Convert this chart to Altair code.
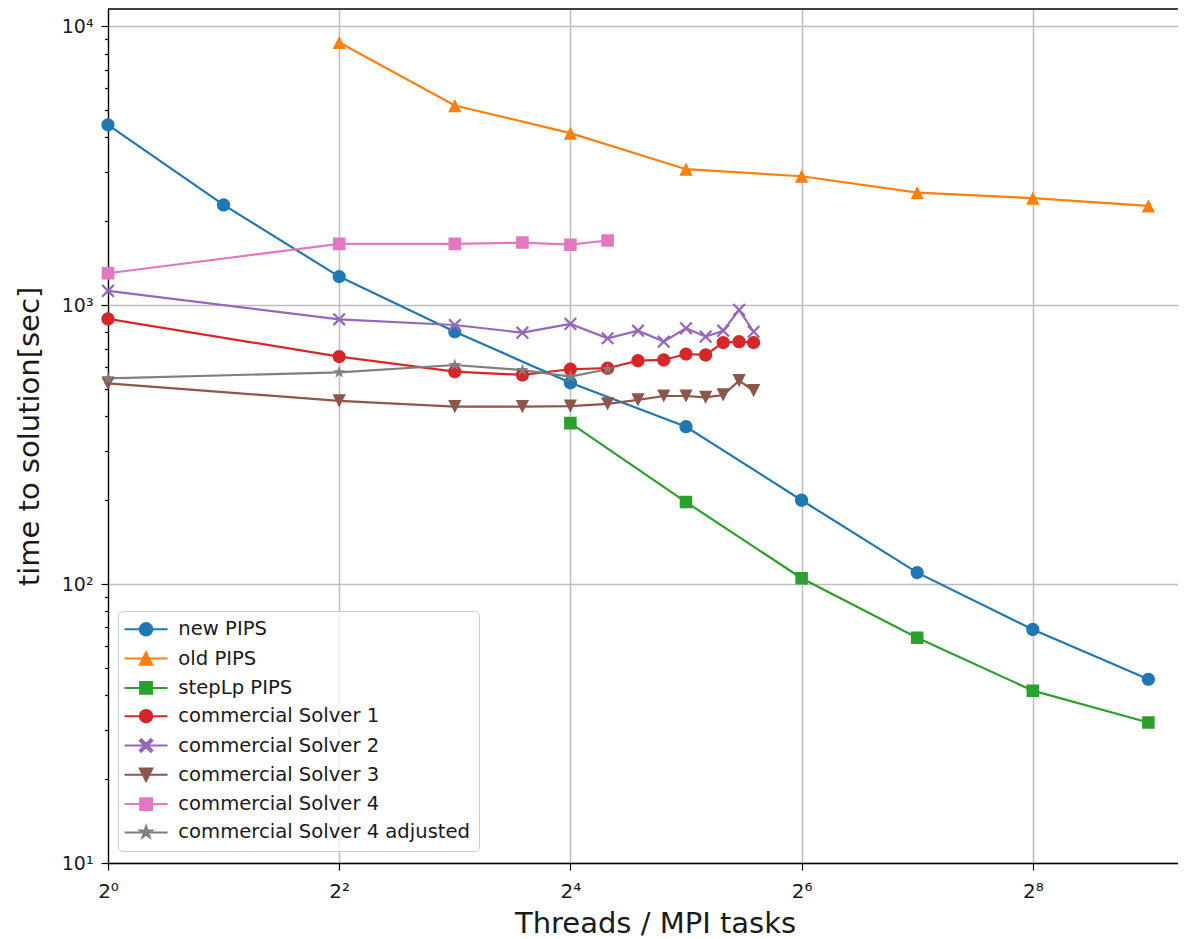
import math
import pandas as pd
import altair as alt

# ---------------- data ----------------
series_names = [
    "new PIPS", "old PIPS", "stepLp PIPS", "commercial Solver 1",
    "commercial Solver 2", "commercial Solver 3", "commercial Solver 4",
    "commercial Solver 4 adjusted",
]
series_colors = ["#1f77b4", "#ff7f0e", "#2ca02c", "#d62728",
                 "#9467bd", "#8c564b", "#e377c2", "#7f7f7f"]

pips_threads = [1, 2, 4, 8, 16, 32, 64, 128, 256, 512]
new_pips = [4440, 2291, 1268, 804, 528, 367, 200, 110, 68.8, 45.6]

old_threads = [4, 8, 16, 32, 64, 128, 256, 512]
old_pips = [8762, 5206, 4146, 3078, 2904, 2538, 2423, 2273]

steplp_threads = [16, 32, 64, 128, 256, 512]
steplp_pips = [378, 197, 105, 64.2, 41.5, 31.9]

solver_threads = [1, 4, 8, 12, 16, 20, 24, 28, 32, 36, 40, 44, 48]
solver1 = [894, 655, 578, 563, 590, 595, 633, 637, 669, 664, 735, 741, 735]
solver2 = [1127, 891, 850, 798, 858, 762, 811, 741, 827, 772, 811, 963, 804]
solver3 = [525, 454, 433, 433, 435, 443, 458, 473, 473, 468, 477, 537, 494]

solver4_threads = [1, 4, 8, 12, 16, 20]
solver4 = [1303, 1661, 1661, 1679, 1650, 1708]
solver4_adj = [547, 575, 611, 586, 555, 590]

x_tick_values = [1, 4, 16, 64, 256]
y_major = [10, 100, 1000, 10000]
y_minor = [m * d for d in (10, 100, 1000) for m in range(2, 10)]

# ---------------- table ----------------
groups = [
    (series_names[0], pips_threads, new_pips),
    (series_names[1], old_threads, old_pips),
    (series_names[2], steplp_threads, steplp_pips),
    (series_names[3], solver_threads, solver1),
    (series_names[4], solver_threads, solver2),
    (series_names[5], solver_threads, solver3),
    (series_names[6], solver4_threads, solver4),
    (series_names[7], solver4_threads, solver4_adj),
]
rows = []
for idx, (name, xs, ys) in enumerate(groups):
    for xv, yv in zip(xs, ys):
        rows.append({"series": name, "order_idx": idx, "threads": xv, "time": yv})
df = pd.DataFrame(rows)

# ---------------- marker shapes (unit box, plus a legend line segment) ----------------
LINE = "M-3.44,0L3.44,0 "


def fmt(v):
    return f"{v:.3f}".rstrip("0").rstrip(".")


def poly(points):
    return "M" + "L".join(f"{fmt(px)},{fmt(py)}" for px, py in points) + "Z"


circle = "M-1,0A1,1 0 1,0 1,0A1,1 0 1,0 -1,0Z"
tri_up = poly([(0, -1), (1, 1), (-1, 1)])
square = poly([(-0.95, -0.95), (0.95, -0.95), (0.95, 0.95), (-0.95, 0.95)])
c = 0.24
xmark = poly([(0, -c), (1 - c, -1), (1, -1 + c), (c, 0), (1, 1 - c), (1 - c, 1),
              (0, c), (-1 + c, 1), (-1, 1 - c), (-c, 0), (-1, -1 + c), (-1 + c, -1)])
tri_down = poly([(0, 1), (1, -1), (-1, -1)])
star_pts = []
for k in range(10):
    r = 1.0 if k % 2 == 0 else 0.382
    ang = -math.pi / 2 + k * math.pi / 5
    star_pts.append((r * math.cos(ang), r * math.sin(ang)))
star = poly(star_pts)

shape_paths = [LINE + s for s in (circle, tri_up, square, circle, xmark, tri_down, square, star)]

# ---------------- layout ----------------
W, H = 1070, 854
px_per_oct = 115.6
x_max = 2 ** (W / px_per_oct)
y_max = 10 ** (4 + 17.5 / 278.9)
FONT = "DejaVu Sans"
TXT = "#1a1a1a"

major_test = "indexof([10,100,1000,10000], datum.value) >= 0"

x_enc = alt.X(
    "threads:Q",
    scale=alt.Scale(type="log", base=2, domain=[1, x_max], nice=False, zero=False),
    axis=alt.Axis(
        values=x_tick_values,
        labelExpr="'2' + (datum.value == 1 ? '⁰' : datum.value == 4 ? '²' : datum.value == 16 ? '⁴' : datum.value == 64 ? '⁶' : '⁸')",
        title="Threads / MPI tasks",
        titleFont=FONT, titleFontSize=29, titleFontWeight="normal", titleColor=TXT,
        titlePadding=8, titleX=547,
        labelFont=FONT, labelFontSize=20, labelColor=TXT, labelPadding=11,
        labelFlush=False, labelOverlap=False,
        tickSize=7, tickColor="black", tickWidth=1.2,
        domainColor="black", domainWidth=1.3,
        grid=True, gridColor="#bdbdbd", gridWidth=1.5,
    ),
)
y_enc = alt.Y(
    "time:Q",
    scale=alt.Scale(type="log", domain=[10, y_max], nice=False, zero=False),
    axis=alt.Axis(
        values=y_major + y_minor,
        labelExpr="datum.value == 10 ? '10¹' : datum.value == 100 ? '10²' : datum.value == 1000 ? '10³' : datum.value == 10000 ? '10⁴' : ''",
        title="time to solution[sec]",
        titleFont=FONT, titleFontSize=29, titleFontWeight="normal", titleColor=TXT,
        titlePadding=17,
        labelFont=FONT, labelFontSize=19, labelColor=TXT, labelPadding=8,
        labelFlush=False, labelOverlap=False,
        tickSize={"condition": {"test": major_test, "value": 7}, "value": 3.5},
        tickColor="black", tickWidth=1.2,
        domainColor="black", domainWidth=1.3,
        grid=True, gridColor="#bdbdbd", gridWidth=1.5,
        gridOpacity={"condition": {"test": major_test, "value": 1}, "value": 0},
    ),
)

legend = alt.Legend(
    title=None, orient="none", legendX=10, legendY=602, direction="vertical",
    symbolSize=156.25, symbolStrokeWidth=2, symbolOffset=9.75, symbolOpacity=1,
    labelOffset=22.5, padding=8.5, rowPadding=7.3,
    labelFont=FONT, labelFontSize=19.6, labelColor=TXT, labelLimit=500,
    fillColor="rgba(255,255,255,0.8)", strokeColor="#cccccc", cornerRadius=4,
)

base = alt.Chart(df)

# line colours: same pairs, listed in reverse so this scale is not merged with the legend scales
lines = base.mark_line(strokeWidth=2.2).encode(
    x=x_enc, y=y_enc,
    color=alt.Color("series:N",
                    scale=alt.Scale(domain=series_names[::-1], range=series_colors[::-1]),
                    legend=None),
)

points = base.mark_point(filled=True, opacity=1, size=175).encode(
    x=x_enc, y=y_enc,
    fill=alt.Fill("series:N", scale=alt.Scale(domain=series_names, range=series_colors), legend=legend),
    stroke=alt.Stroke("series:N", scale=alt.Scale(domain=series_names, range=series_colors), legend=legend),
    shape=alt.Shape("series:N", scale=alt.Scale(domain=series_names, range=shape_paths), legend=legend),
    strokeWidth=alt.value(0),
    order=alt.Order("order_idx:Q"),
)

top_border = alt.Chart(alt.Data(values=[{}])).mark_rule(color="black", strokeWidth=1.3).encode(
    x=alt.value(0), x2=alt.value(W), y=alt.value(0)
)

chart = (
    alt.layer(lines, points, top_border)
    .properties(
        width=W, height=H,
        autosize=alt.AutoSizeParams(type="none"),
        padding={"left": 100, "top": 1, "right": 0, "bottom": 76},
        background="white",
    )
    .configure_view(stroke=None)
)

chart.save("out.html", embed_options={"renderer": "svg", "actions": False})
